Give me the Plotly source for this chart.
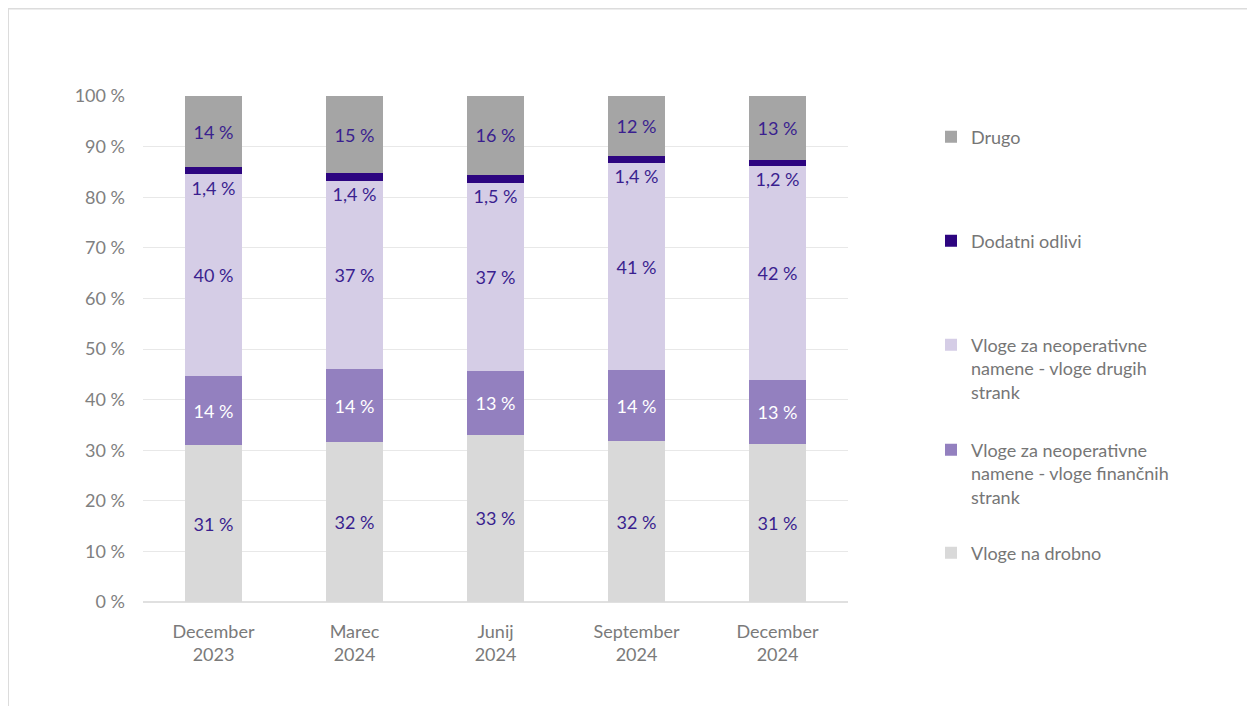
import plotly.graph_objects as go

categories = ["December<br>2023", "Marec<br>2024", "Junij<br>2024", "September<br>2024", "December<br>2024"]

vloge_drobno = [31.0, 31.6, 33.1, 31.8, 31.2]
vloge_financnih = [13.6, 14.4, 12.6, 14.0, 12.7]
vloge_drugih = [39.9, 37.3, 37.2, 40.9, 42.3]
dodatni_odlivi = [1.4, 1.4, 1.5, 1.4, 1.2]
drugo = [14.1, 15.3, 15.6, 11.9, 12.6]

y_tickvals = [0, 10, 20, 30, 40, 50, 60, 70, 80, 90, 100]
y_ticktext = [f"{v} %" for v in y_tickvals]

names = [
    "Vloge na drobno",
    "Vloge za neoperativne<br>namene - vloge finančnih<br>strank",
    "Vloge za neoperativne<br>namene - vloge drugih<br>strank",
    "Dodatni odlivi",
    "Drugo",
]

C_DROBNO = "#D9D9D9"
C_FIN = "#9380BF"
C_DRUGIH = "#D5CDE6"
C_DOD = "#2D0580"
C_DRUGO = "#A5A5A5"
LABEL = "#3A1F8F"
FONT = "Lato, 'Open Sans', sans-serif"

def pct(vals):
    return [f"{v:.0f} %" for v in vals]

def pct1(vals):
    return [f"{v:.1f} %".replace(".", ",") for v in vals]

fig = go.Figure()

series = [
    (vloge_drobno, C_DROBNO, names[0], LABEL, "legend5"),
    (vloge_financnih, C_FIN, names[1], "white", "legend4"),
    (vloge_drugih, C_DRUGIH, names[2], LABEL, "legend3"),
    (dodatni_odlivi, C_DOD, names[3], None, "legend2"),
    (drugo, C_DRUGO, names[4], LABEL, "legend"),
]

for vals, col, nm, tcol, lg in series:
    fig.add_trace(go.Bar(
        x=categories, y=vals, name=nm, marker=dict(color=col, line=dict(width=0)),
        text=pct(vals) if tcol else None,
        textposition="inside" if tcol else "none",
        insidetextanchor="middle", textangle=0,
        textfont=dict(color=tcol or LABEL, size=18, family=FONT),
        constraintext="none",
        legend=lg,
        hoverinfo="skip",
    ))

# Dodatni odlivi labels, just below the thin strip
dod_label_y = [a + b + c - 3.1 for a, b, c in zip(vloge_drobno, vloge_financnih, vloge_drugih)]
fig.add_trace(go.Scatter(
    x=categories, y=dod_label_y, mode="text", text=pct1(dodatni_odlivi),
    textposition="middle center",
    textfont=dict(color=LABEL, size=18, family=FONT),
    showlegend=False, hoverinfo="skip",
))

# the page shows the figure with an 8px body offset; work in page px
OFF = 8
W, H = 1255 - OFF, 706 - OFF
L, R, T, B = 143 - OFF, 848 - OFF, 96 - OFF, 602 - OFF

def px_x(px):
    return (px - OFF - L) / (R - L)

def px_y(py):
    return (B - (py - OFF)) / (B - T)

legend_tops = [118.5, 222.5, 326.5, 431.5, 534.5]
legend_keys = ["legend", "legend2", "legend3", "legend4", "legend5"]
leg_layout = {}
for key, top in zip(legend_keys, legend_tops):
    leg_layout[key] = dict(
        x=px_x(931), y=px_y(top), xanchor="left", yanchor="top",
        valign="top", bgcolor="rgba(0,0,0,0)",
        font=dict(family=FONT, size=18, color="#767676"),
    )

fig.update_layout(
    width=W, height=H,
    margin=dict(l=L, r=W - R, t=T, b=H - B),
    barmode="stack", bargap=0.6,
    plot_bgcolor="white", paper_bgcolor="white",
    font=dict(family=FONT, size=18, color="#7F7F7F"),
    showlegend=True,
    **leg_layout,
    xaxis=dict(showgrid=False, showline=False, ticks="", ticklabelstandoff=17,
               tickfont=dict(family=FONT, size=18, color="#7A7A7A")),
    yaxis=dict(range=[0, 100], tickvals=y_tickvals, ticktext=y_ticktext,
               showgrid=True, gridcolor="#E8E8E8", gridwidth=1,
               zeroline=True, zerolinecolor="#E0E0E0", zerolinewidth=2,
               showline=False, ticks="", ticklabelstandoff=17,
               tickfont=dict(family=FONT, size=18, color="#808080")),
    shapes=[dict(type="rect", xref="paper", yref="paper",
                 x0=px_x(8), x1=px_x(1270), y0=px_y(720), y1=px_y(8.5),
                 line=dict(color="#DCDCDC", width=2), fillcolor="rgba(0,0,0,0)",
                 layer="below")],
)

fig.write_html("out.html")
